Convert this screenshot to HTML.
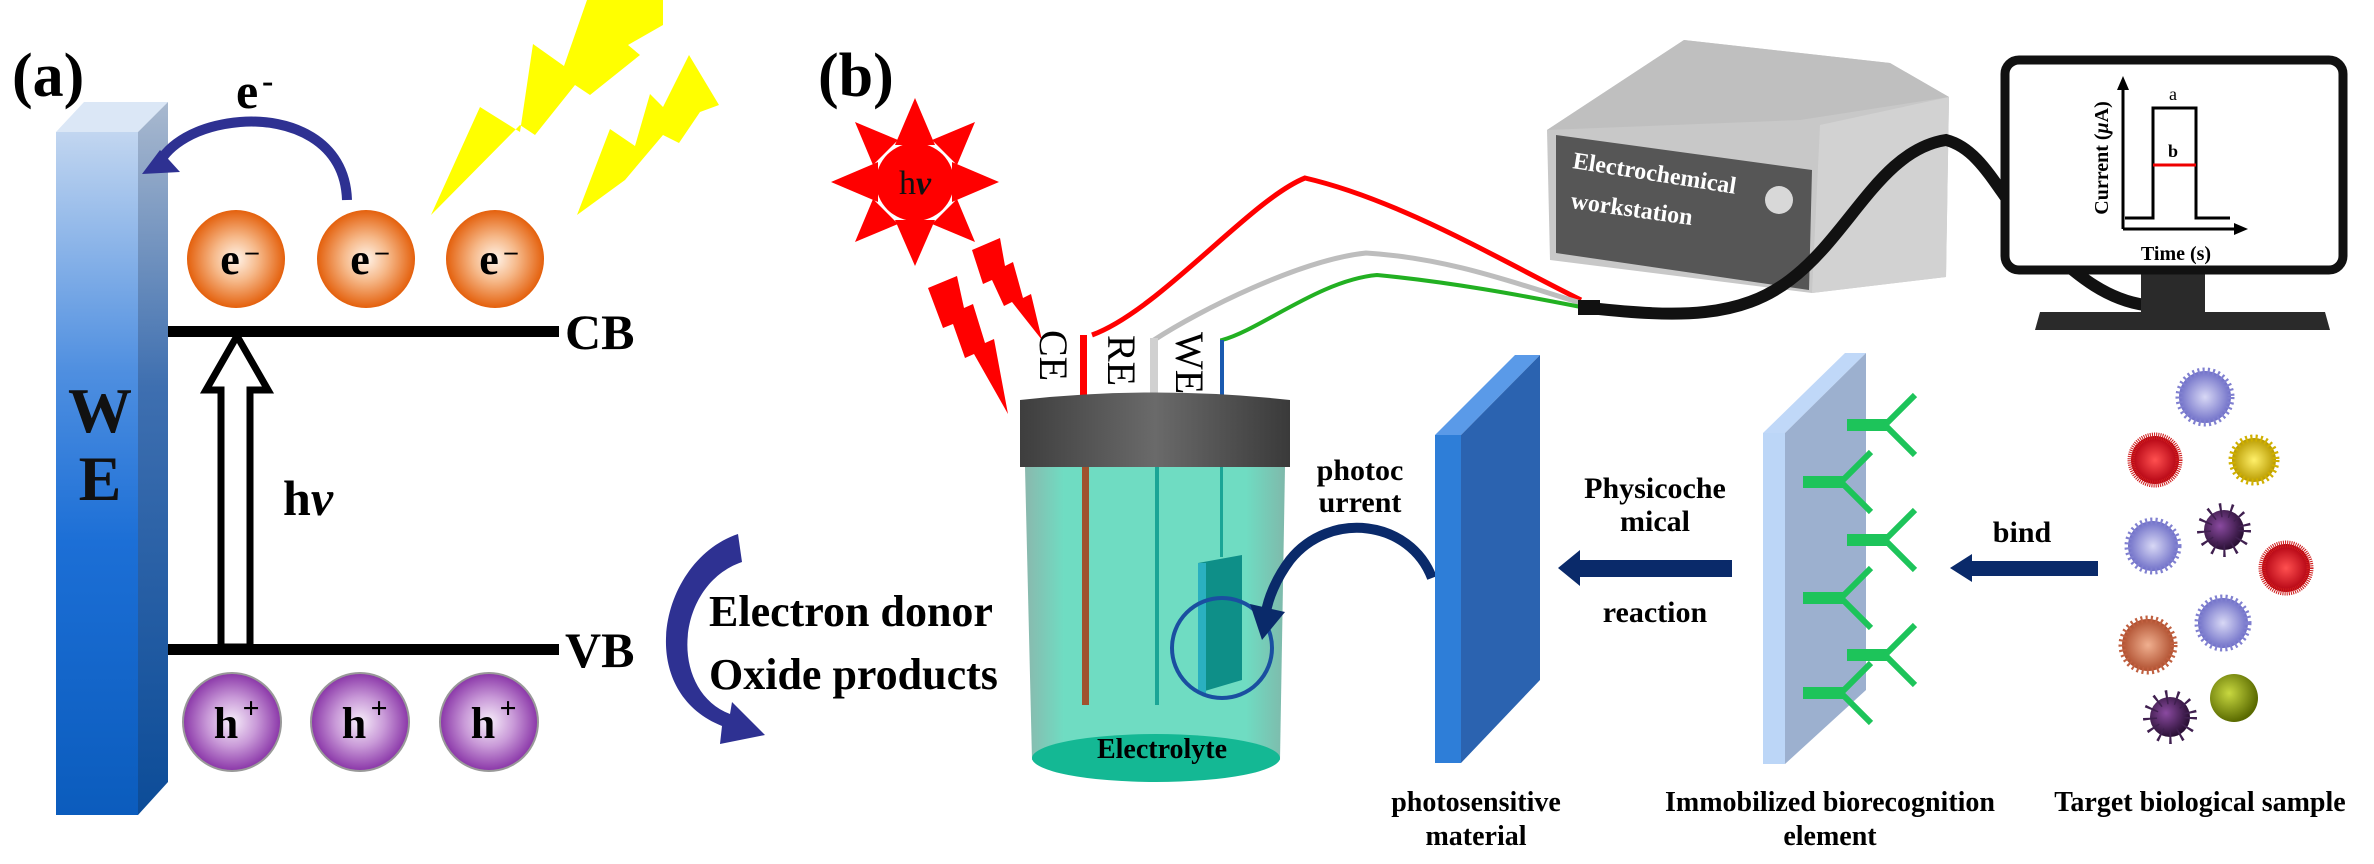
<!DOCTYPE html>
<html><head><meta charset="utf-8"><style>
html,body{margin:0;padding:0;background:#fff;}
svg{display:block;}
text{font-family:"Liberation Serif",serif;font-weight:bold;}
</style></head><body>
<svg width="2374" height="864" viewBox="0 0 2374 864" xmlns="http://www.w3.org/2000/svg">
<defs>
<linearGradient id="weF" x1="0" y1="0" x2="0" y2="1"><stop offset="0" stop-color="#c2d6f0"/><stop offset="0.35" stop-color="#4f8fe0"/><stop offset="0.6" stop-color="#1c6fd6"/><stop offset="1" stop-color="#0b5cbd"/></linearGradient>
<linearGradient id="weS" x1="0" y1="0" x2="0" y2="1"><stop offset="0" stop-color="#a9b9cf"/><stop offset="0.4" stop-color="#3e6fb0"/><stop offset="1" stop-color="#0c4c98"/></linearGradient>
<radialGradient id="org" cx="0.5" cy="0.5" r="0.5"><stop offset="0" stop-color="#fff4ea"/><stop offset="0.45" stop-color="#f6b98a"/><stop offset="1" stop-color="#e4600c"/></radialGradient>
<radialGradient id="pur" cx="0.5" cy="0.5" r="0.5"><stop offset="0" stop-color="#f7eefa"/><stop offset="0.5" stop-color="#c99ad8"/><stop offset="1" stop-color="#8a36a8"/></radialGradient>
<linearGradient id="cap" x1="0" y1="0" x2="1" y2="0"><stop offset="0" stop-color="#3e3e3e"/><stop offset="0.5" stop-color="#6a6a6a"/><stop offset="1" stop-color="#3a3a3a"/></linearGradient>
<linearGradient id="body" x1="0" y1="0" x2="1" y2="0"><stop offset="0" stop-color="#8ab8ad"/><stop offset="0.15" stop-color="#6fdcc2"/><stop offset="0.85" stop-color="#6fdcc2"/><stop offset="1" stop-color="#7fb9ab"/></linearGradient>
<radialGradient id="vb" cx="0.5" cy="0.5" r="0.5"><stop offset="0" stop-color="#d8d8f5"/><stop offset="1" stop-color="#7070c8"/></radialGradient>
<radialGradient id="vr" cx="0.5" cy="0.5" r="0.5"><stop offset="0" stop-color="#ff5050"/><stop offset="1" stop-color="#b00010"/></radialGradient>
<radialGradient id="vy" cx="0.5" cy="0.5" r="0.5"><stop offset="0" stop-color="#fff06a"/><stop offset="1" stop-color="#b89a00"/></radialGradient>
<radialGradient id="vp" cx="0.4" cy="0.4" r="0.6"><stop offset="0" stop-color="#8a4aa0"/><stop offset="1" stop-color="#2a1035"/></radialGradient>
<radialGradient id="vo" cx="0.5" cy="0.5" r="0.5"><stop offset="0" stop-color="#f0b090"/><stop offset="1" stop-color="#b05030"/></radialGradient>
<radialGradient id="vg" cx="0.4" cy="0.4" r="0.6"><stop offset="0" stop-color="#c8d840"/><stop offset="1" stop-color="#5a6a00"/></radialGradient>
</defs>

<!-- ===== Panel (a) ===== -->
<text x="12" y="96" font-size="62">(a)</text>
<polygon points="56,132 84,102 168,102 138,132" fill="#dbe7f6"/>
<polygon points="138,132 168,102 168,782 138,815" fill="url(#weS)"/>
<rect x="56" y="132" width="82" height="683" fill="url(#weF)"/>
<text x="100" y="432" font-size="64" text-anchor="middle" fill="#111">W</text>
<text x="100" y="500" font-size="64" text-anchor="middle" fill="#111">E</text>
<polygon points="431,215 480,107 520,132 533,44 564,66 587,0 663,0 663,25 628,45 640,55 590,95 575,85 535,135 520,125" fill="#ffff00"/>
<polygon points="577,215 610,129 635,146 650,94 663,107 689,55 719,105 700,112 679,143 663,135 625,180" fill="#ffff00"/>
<text x="236" y="108" font-size="50">e</text><text x="262" y="92" font-size="34">-</text>
<path d="M347,200 C345,140 290,118 240,122 C195,126 168,145 158,165" fill="none" stroke="#2e3192" stroke-width="10"/>
<polygon points="142,174 160,150 180,172" fill="#2e3192"/>
<g font-size="44" text-anchor="middle">
<circle cx="236" cy="259" r="49" fill="url(#org)"/><text x="230" y="274">e</text><text x="252" y="260" font-size="26">–</text>
<circle cx="366" cy="259" r="49" fill="url(#org)"/><text x="360" y="274">e</text><text x="382" y="260" font-size="26">–</text>
<circle cx="495" cy="259" r="49" fill="url(#org)"/><text x="489" y="274">e</text><text x="511" y="260" font-size="26">–</text>
</g>
<rect x="168" y="326" width="391" height="11" fill="#000"/>
<rect x="168" y="644" width="391" height="11" fill="#000"/>
<text x="565" y="349" font-size="50">CB</text>
<text x="565" y="667" font-size="50">VB</text>
<polygon points="221,647 221,390 206,390 237,336 268,390 250,390 250,647" fill="#fff" stroke="#000" stroke-width="7"/>
<text x="283" y="515" font-size="50">h<tspan font-style="italic">ν</tspan></text>
<g font-size="44" text-anchor="middle">
<circle cx="232" cy="722" r="49" fill="url(#pur)" stroke="#999" stroke-width="2"/><text x="226" y="738">h</text><text x="251" y="718" font-size="30">+</text>
<circle cx="360" cy="722" r="49" fill="url(#pur)" stroke="#999" stroke-width="2"/><text x="354" y="738">h</text><text x="379" y="718" font-size="30">+</text>
<circle cx="489" cy="722" r="49" fill="url(#pur)" stroke="#999" stroke-width="2"/><text x="483" y="738">h</text><text x="508" y="718" font-size="30">+</text>
</g>
<path d="M738,534 C660,560 632,690 722,726 L720,744 L765,735 L732,702 L730,714 C668,690 675,585 742,562 Z" fill="#2e3192"/>
<text x="709" y="626" font-size="44">Electron donor</text>
<text x="709" y="689" font-size="44">Oxide products</text>

<!-- ===== Panel (b) ===== -->
<text x="818" y="96" font-size="62">(b)</text>
<g fill="#ff0000">
<polygon points="915,98 935,145 895,145"/>
<polygon points="915,266 935,220 895,220"/>
<polygon points="831,182 878,162 878,202"/>
<polygon points="999,182 952,162 952,202"/>
<polygon points="855,122 898,140 873,165"/>
<polygon points="975,122 932,140 957,165"/>
<polygon points="855,242 898,224 873,199"/>
<polygon points="975,242 932,224 957,199"/>
<circle cx="915" cy="182" r="39"/>
</g>
<text x="915" y="194" font-size="34" text-anchor="middle" fill="#111" style="font-weight:normal">h<tspan font-style="italic" font-weight="bold">ν</tspan></text>
<polygon points="972,250 1000,238 1005,266 1013,262 1023,298 1031,294 1042,340 1012,302 1004,306 992,280 983,284" fill="#ff0000"/>
<polygon points="928,288 957,276 964,308 973,304 985,343 994,339 1008,414 974,354 965,358 953,324 943,328" fill="#ff0000"/>
<path d="M1092,335 C1160,310 1250,200 1305,178 C1400,200 1500,260 1581,300" fill="none" stroke="#ff0000" stroke-width="5"/>
<rect x="1080" y="335" width="7" height="60" fill="#ff0000"/>
<path d="M1154,393 L1154,340 C1200,310 1300,260 1366,253 C1450,258 1520,285 1581,303" fill="none" stroke="#bdbdbd" stroke-width="5"/>
<rect x="1150" y="338" width="8" height="57" fill="#d0d0d0"/>
<path d="M1222,393 L1222,340 C1260,330 1320,280 1377,275 C1450,282 1520,295 1581,307" fill="none" stroke="#22b022" stroke-width="4"/>
<rect x="1220" y="340" width="4" height="55" fill="#1a5ab0"/>
<text font-size="40" style="font-weight:normal" transform="translate(1040,330) rotate(90)">CE</text>
<text font-size="40" style="font-weight:normal" transform="translate(1108,335) rotate(90)">RE</text>
<text font-size="40" style="font-weight:normal" transform="translate(1176,332) rotate(90)">WE</text>
<path d="M1025,467 L1285,467 L1280,760 L1032,760 Z" fill="url(#body)"/>
<ellipse cx="1156" cy="758" rx="124" ry="24" fill="#14b894"/>
<path d="M1020,400 Q1155,385 1290,400 L1290,467 L1020,467 Z" fill="url(#cap)"/>
<rect x="1082" y="467" width="7" height="238" fill="#a0522d"/>
<rect x="1155" y="467" width="4" height="238" fill="#1aa596"/>
<rect x="1220" y="467" width="3" height="90" fill="#1aa596"/>
<polygon points="1198,563 1242,555 1242,680 1198,693" fill="#0e8f88"/>
<rect x="1198" y="563" width="8" height="130" fill="#2ab0c0"/>
<circle cx="1222" cy="648" r="50" fill="none" stroke="#1a4fa0" stroke-width="4"/>
<path d="M1432,578 C1410,520 1330,510 1290,560 C1275,580 1268,600 1266,612" fill="none" stroke="#0a2a6a" stroke-width="10"/>
<polygon points="1250,604 1285,612 1262,640" fill="#0a2a6a"/>
<text x="1162" y="758" font-size="28" text-anchor="middle">Electrolyte</text>
<text x="1360" y="480" font-size="30" text-anchor="middle">photoc</text>
<text x="1360" y="512" font-size="30" text-anchor="middle">urrent</text>
<polygon points="1435,435 1515,355 1540,355 1461,435" fill="#5a9ae8"/>
<polygon points="1461,435 1540,355 1540,680 1461,763" fill="#2b63b0"/>
<rect x="1435" y="435" width="26" height="328" fill="#2e7ed8"/>
<rect x="1575" y="560" width="157" height="17" fill="#0a2a6a"/>
<polygon points="1558,568 1580,550 1580,586" fill="#0a2a6a"/>
<text x="1655" y="498" font-size="30" text-anchor="middle">Physicoche</text>
<text x="1655" y="531" font-size="30" text-anchor="middle">mical</text>
<text x="1655" y="622" font-size="30" text-anchor="middle">reaction</text>
<polygon points="1763,433 1845,353 1866,353 1785,433" fill="#c0d8f8"/>
<polygon points="1785,433 1866,353 1866,690 1785,764" fill="#9cb0cf"/>
<rect x="1763" y="433" width="22" height="331" fill="#bcd6f7"/>
<!-- antibodies -->
<g stroke="#1dc45a" fill="none" stroke-width="6">
<g transform="translate(1847,425)"><rect x="0" y="-6" width="40" height="12" fill="#1dc45a" stroke="none"/><path d="M38,0 L62,-24 M38,0 L62,24 M46,-8 L68,-30 M46,8 L68,30"/></g>
<g transform="translate(1803,482)"><rect x="0" y="-6" width="40" height="12" fill="#1dc45a" stroke="none"/><path d="M38,0 L62,-24 M38,0 L62,24 M46,-8 L68,-30 M46,8 L68,30"/></g>
<g transform="translate(1847,540)"><rect x="0" y="-6" width="40" height="12" fill="#1dc45a" stroke="none"/><path d="M38,0 L62,-24 M38,0 L62,24 M46,-8 L68,-30 M46,8 L68,30"/></g>
<g transform="translate(1803,598)"><rect x="0" y="-6" width="40" height="12" fill="#1dc45a" stroke="none"/><path d="M38,0 L62,-24 M38,0 L62,24 M46,-8 L68,-30 M46,8 L68,30"/></g>
<g transform="translate(1847,655)"><rect x="0" y="-6" width="40" height="12" fill="#1dc45a" stroke="none"/><path d="M38,0 L62,-24 M38,0 L62,24 M46,-8 L68,-30 M46,8 L68,30"/></g>
<g transform="translate(1803,693)"><rect x="0" y="-6" width="40" height="12" fill="#1dc45a" stroke="none"/><path d="M38,0 L62,-24 M38,0 L62,24 M46,-8 L68,-30 M46,8 L68,30"/></g>
</g>
<rect x="1968" y="561" width="130" height="15" fill="#0a2a6a"/>
<polygon points="1950,568 1972,554 1972,582" fill="#0a2a6a"/>
<text x="2022" y="542" font-size="30" text-anchor="middle">bind</text>
<g stroke-width="7" stroke-dasharray="2 3">
<circle cx="2205" cy="397" r="26" fill="url(#vb)" stroke="#8080d0"/>
<circle cx="2155" cy="460" r="24" fill="url(#vr)" stroke="#d02020" stroke-dasharray="1 1"/>
<circle cx="2254" cy="460" r="22" fill="url(#vy)" stroke="#d0b000"/>
<circle cx="2153" cy="546" r="25" fill="url(#vb)" stroke="#8080d0"/>
<circle cx="2224" cy="530" r="20" fill="url(#vp)" stroke="#402050" stroke-dasharray="2 8" stroke-width="14"/>
<circle cx="2286" cy="568" r="24" fill="url(#vr)" stroke="#d02020" stroke-dasharray="1 1"/>
<circle cx="2223" cy="623" r="25" fill="url(#vb)" stroke="#8080d0"/>
<circle cx="2148" cy="645" r="26" fill="url(#vo)" stroke="#c06040"/>
<circle cx="2170" cy="717" r="20" fill="url(#vp)" stroke="#402050" stroke-dasharray="2 8" stroke-width="14"/>
<circle cx="2234" cy="698" r="24" fill="url(#vg)" stroke="none"/>
</g>
<g font-size="28" text-anchor="middle">
<text x="1476" y="811">photosensitive</text><text x="1476" y="845">material</text>
<text x="1830" y="811">Immobilized biorecognition</text><text x="1830" y="845">element</text>
<text x="2200" y="811">Target biological sample</text>
</g>
<polygon points="1547,130 1684,40 1890,63 1949,97 1946,277 1812,293 1550,260" fill="#c8c8c8"/>
<polygon points="1684,40 1890,63 1949,97 1800,120 1547,130" fill="#bfbfbf"/>
<polygon points="1820,125 1949,97 1946,277 1812,293" fill="#d2d2d2"/>
<polygon points="1556,135 1812,170 1809,290 1556,253" fill="#565656"/>
<circle cx="1779" cy="200" r="14" fill="#d8d8d8"/>
<text font-size="24" fill="#fff" transform="translate(1572,168) rotate(9)">Electrochemical</text>
<text font-size="24" fill="#fff" transform="translate(1570,208) rotate(8)">workstation</text>
<path d="M1590,308 C1680,318 1740,318 1790,280 C1850,235 1880,150 1946,140 C1985,150 2000,200 2040,240 C2080,280 2110,300 2145,305" fill="none" stroke="#111" stroke-width="12"/>
<rect x="1578" y="300" width="22" height="15" fill="#111"/>
<rect x="2141" y="265" width="64" height="50" fill="#2a2a2a"/>
<polygon points="2040,312 2325,312 2330,330 2035,330" fill="#2a2a2a"/>
<rect x="2005" y="60" width="338" height="210" rx="14" fill="#fff" stroke="#111" stroke-width="9"/>
<line x1="2123" y1="229" x2="2123" y2="84" stroke="#000" stroke-width="3"/>
<polygon points="2123,76 2117,90 2129,90" fill="#000"/>
<line x1="2123" y1="229" x2="2240" y2="229" stroke="#000" stroke-width="3"/>
<polygon points="2248,229 2234,223 2234,235" fill="#000"/>
<polyline points="2125,218 2153,218 2153,108 2196,108 2196,218 2230,218" fill="none" stroke="#000" stroke-width="3"/>
<line x1="2153" y1="165" x2="2196" y2="165" stroke="#e00" stroke-width="3"/>
<text x="2173" y="100" font-size="18" text-anchor="middle" style="font-weight:normal">a</text>
<text x="2173" y="157" font-size="18" text-anchor="middle">b</text>
<text font-size="20" text-anchor="middle" transform="translate(2108,158) rotate(-90)">Current (<tspan font-style="italic">μ</tspan>A)</text>
<text x="2176" y="260" font-size="20" text-anchor="middle">Time (s)</text>
</svg>
</body></html>
